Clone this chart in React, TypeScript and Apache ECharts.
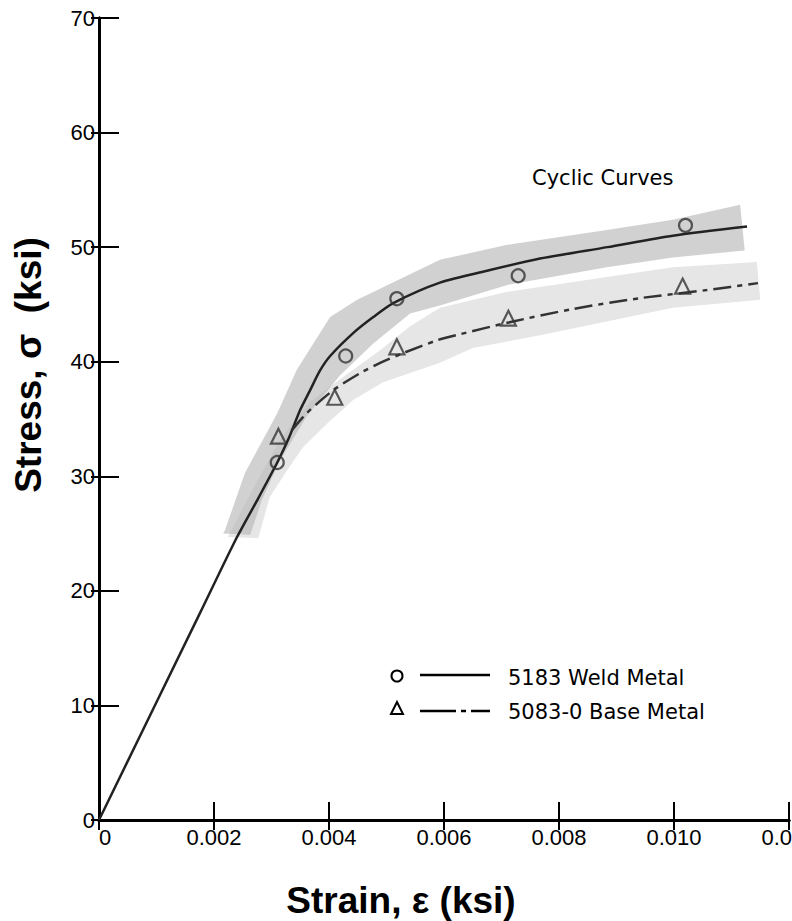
import React, { useEffect, useRef } from "react";
import * as echarts from "echarts";

// strain values in units of 0.001 (converted below), stress in ksi
const weldCurve: number[][] = [
  [0, 0], [1.76, 18.1], [2.37, 24.4], [2.75, 27.9], [3.10, 31.2], [3.29, 33.2],
  [3.50, 35.8], [3.67, 37.5], [3.84, 39.2], [4.02, 40.5], [4.42, 42.5], [4.77, 43.9],
  [5.11, 45.1], [5.93, 46.9], [6.80, 48.0], [7.67, 49.0], [8.84, 50.0], [9.98, 51.0], [11.27, 51.8],
];
const baseCurve: number[][] = [
  [3.35, 34.0], [3.61, 35.5], [4.07, 37.5], [4.54, 39.0], [4.89, 39.9], [5.29, 40.75],
  [5.9, 41.9], [6.28, 42.4], [7.10, 43.4], [8.24, 44.6], [9.41, 45.55], [10.57, 46.25], [11.46, 46.86],
];
const weldPoints: number[][] = [
  [3.10, 31.2], [4.29, 40.5], [5.18, 45.5], [7.29, 47.5], [10.2, 51.9],
];
const basePoints: number[][] = [
  [3.12, 33.5], [4.10, 36.9], [5.18, 41.3], [7.12, 43.8], [10.15, 46.6],
];
const weldBand: number[][] = [
  [2.19, 25.3], [2.54, 30.3], [3.10, 35.5], [3.44, 39.3], [4.02, 43.9], [4.49, 45.4],
  [5.93, 48.9], [7.10, 50.2], [8.83, 51.5], [9.98, 52.4], [11.15, 53.7],
  [11.23, 49.7], [9.98, 49.1], [8.83, 48.25], [7.10, 46.7], [5.93, 44.9], [5.41, 44.2],
  [4.77, 41.6], [4.19, 38.8], [3.62, 35.3], [3.15, 31.4], [2.83, 27.9], [2.63, 24.9], [2.16, 25.0],
];
const baseBand: number[][] = [
  [2.24, 24.7], [2.71, 29.2], [3.15, 33.2], [3.67, 36.5], [4.28, 38.8], [4.89, 41.0],
  [5.41, 43.1], [5.93, 44.7], [7.10, 46.1], [8.83, 47.4], [9.98, 48.25], [11.44, 48.7],
  [11.50, 45.4], [9.98, 44.7], [8.83, 43.5], [7.67, 42.3], [6.50, 41.2], [5.93, 39.9],
  [4.94, 38.2], [4.42, 36.65], [3.97, 34.6], [3.55, 32.55], [3.27, 30.5], [2.97, 28.2], [2.77, 24.6],
];
const xTicks = [0, 0.002, 0.004, 0.006, 0.008, 0.01, 0.012];
const yTicks = [0, 10, 20, 30, 40, 50, 60, 70];

const toStrain = (arr: number[][]) => arr.map(([x, y]) => [x / 1000, y]);

export default function App() {
  const ref = useRef<HTMLDivElement>(null);
  useEffect(() => {
    document.body.style.margin = "0";
    const chart = echarts.init(ref.current!, null, { renderer: "svg" });
    const tickFont = "Liberation Sans, Arial, sans-serif";
    const letterFont = "DejaVu Sans, sans-serif";
    const bandSeries = (band: number[][], fill: string, opacity: number) => ({
      type: "custom",
      data: [[0, 0]],
      silent: true,
      z: 1,
      renderItem: (_p: any, api: any) => ({
        type: "polygon",
        shape: { points: toStrain(band).map((p) => api.coord(p)) },
        style: { fill, opacity },
      }),
    });
    chart.setOption({
      animation: false,
      grid: { left: 99, right: 3, top: 18, bottom: 101, containLabel: false, outerBoundsMode: "none" },
      xAxis: [
        {
          type: "value", min: xTicks[0], max: xTicks[xTicks.length - 1], interval: 0.002,
          position: "bottom",
          axisLine: { lineStyle: { color: "#000", width: 3 } },
          axisTick: { inside: true, length: 18, lineStyle: { color: "#000", width: 2 } },
          splitLine: { show: false },
          axisLabel: {
            color: "#000", fontFamily: tickFont, fontSize: 22, margin: 6,
            showMaxLabel: true, showMinLabel: true, alignMinLabel: "left", hideOverlap: false,
            formatter: (v: number) => (v === 0 ? "0" : v.toFixed(3)),
          },
        },
        {
          type: "value", min: xTicks[0], max: xTicks[xTicks.length - 1], interval: 0.002,
          position: "top",
          axisLine: { lineStyle: { color: "#000", width: 3 } },
          axisTick: { inside: true, length: 10, lineStyle: { color: "#000", width: 2 } },
          splitLine: { show: false },
          axisLabel: { show: false },
        },
      ],
      yAxis: [
        {
          type: "value", min: yTicks[0], max: yTicks[yTicks.length - 1], interval: 10,
          position: "left",
          axisLine: { lineStyle: { color: "#000", width: 3 } },
          axisTick: { inside: true, length: 20, lineStyle: { color: "#000", width: 2 } },
          splitLine: { show: false },
          axisLabel: { color: "#000", fontFamily: tickFont, fontSize: 22, margin: 4 },
        },
        {
          type: "value", min: yTicks[0], max: yTicks[yTicks.length - 1], interval: 10,
          position: "right",
          axisLine: { lineStyle: { color: "#000", width: 3 } },
          axisTick: { inside: true, length: 8, lineStyle: { color: "#000", width: 2 } },
          splitLine: { show: false },
          axisLabel: { show: false },
        },
      ],
      series: [
        bandSeries(baseBand, "#e6e6e6", 1),
        bandSeries(weldBand, "#b8b8b8", 0.65),
        {
          type: "line", data: toStrain(weldCurve), smooth: 0.25, showSymbol: false, z: 3,
          lineStyle: { color: "#222", width: 2.5 },
        },
        {
          type: "line", data: toStrain(baseCurve), smooth: 0.25, showSymbol: false, z: 3,
          lineStyle: { color: "#333", width: 2.5, type: [18, 6, 5, 6] },
        },
        {
          type: "scatter", data: toStrain(weldPoints), symbol: "circle", symbolSize: 13, z: 4,
          itemStyle: { color: "rgba(0,0,0,0)", borderColor: "#333", borderWidth: 2.2 },
        },
        {
          type: "scatter", data: toStrain(basePoints), symbol: "triangle", symbolSize: 15, z: 4,
          itemStyle: { color: "rgba(0,0,0,0)", borderColor: "#333", borderWidth: 2.2 },
        },
      ],
      graphic: [
        {
          type: "text", left: 532, top: 167,
          style: { text: "Cyclic Curves", font: `21px ${letterFont}`, fill: "#000" },
        },
        { type: "circle", shape: { cx: 397, cy: 676, r: 5.5 }, style: { fill: "none", stroke: "#000", lineWidth: 2 } },
        { type: "line", shape: { x1: 420, y1: 675, x2: 490, y2: 675 }, style: { stroke: "#000", lineWidth: 2.5 } },
        {
          type: "text", left: 508, top: 667,
          style: { text: "5183 Weld Metal", font: `21px ${letterFont}`, fill: "#000" },
        },
        {
          type: "polygon", shape: { points: [[397, 702], [391, 714], [403, 714]] },
          style: { fill: "none", stroke: "#000", lineWidth: 2 },
        },
        {
          type: "line", shape: { x1: 420, y1: 711, x2: 490, y2: 711 },
          style: { stroke: "#000", lineWidth: 2.5, lineDash: [36, 5, 5, 5] },
        },
        {
          type: "text", left: 508, top: 701,
          style: { text: "5083-0 Base Metal", font: `21px ${letterFont}`, fill: "#000" },
        },
        {
          type: "text", x: 401, y: 900,
          style: {
            text: "Strain, ε (ksi)", font: `bold 37px ${tickFont}`, fill: "#000",
            textAlign: "center", textVerticalAlign: "middle",
          },
        },
        {
          type: "text", x: 28, y: 365, rotation: Math.PI / 2,
          style: {
            text: "Stress, σ  (ksi)", font: `bold 37px ${tickFont}`, fill: "#000",
            textAlign: "center", textVerticalAlign: "middle",
          },
        },
      ],
    });
    return () => chart.dispose();
  }, []);
  return <div ref={ref} style={{ width: 792, height: 921 }} />;
}
